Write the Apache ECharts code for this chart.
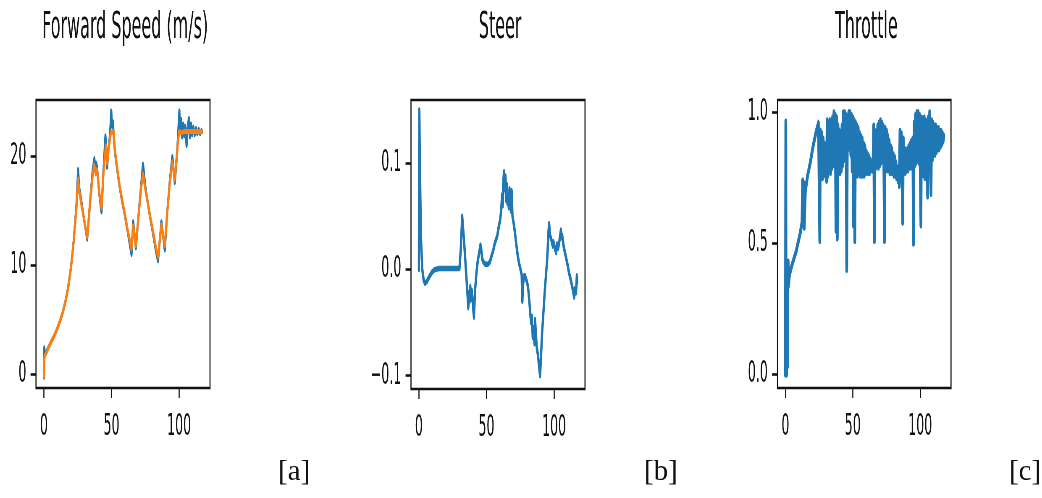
<!DOCTYPE html>
<html>
<head>
<meta charset="utf-8">
<script src="https://cdn.jsdelivr.net/npm/echarts@6/dist/echarts.min.js"></script>
<style>
  html, body { margin: 0; padding: 0; background: #fff; overflow: hidden; }
  #wrap { width: 1042px; height: 498px; overflow: hidden; position: relative; }
  #chart { position: absolute; left: 0; top: 0; height: 498px; transform-origin: 0 0; }
</style>
</head>
<body>
<div id="wrap"><div id="chart"></div></div>
<script>
// Panel titles and sub-figure captions
const panelTitles = ['Forward Speed (m/s)', 'Steer', 'Throttle'];
const captions = ['[a]', '[b]', '[c]'];

// Tick values of each panel
const xTicks = [0, 50, 100];
const speedTicks = [0, 10, 20];
const steerTicks = [-0.1, 0.0, 0.1];
const throttleTicks = [0.0, 0.5, 1.0];

// Forward speed: measured (blue) and filtered (orange), [time, m/s]
const speedMeasured = [
  [0,-0.3],[0.3,2.4],[0.8,1.7],[2,2.1],[4,2.6],[6,3.1],[8,3.6],[10,4.2],[12,4.9],[14,5.7],
  [16,6.7],[18,8.0],[20,9.8],[22,12.2],[24,15.4],[25.3,18.8],[26,17.2],[28,15.6],[30,14.0],[32,12.4],
  [34,15.6],[36,18.6],[37.3,19.8],[38,18.8],[38.6,19.4],[39.3,19.0],[41,16.5],[42.6,14.9],[44,18.6],[45.5,21.9],
  [46.2,20.5],[46.8,19.0],[47.5,20.4],[48.5,21.5],[49.3,22.9],[49.8,24.2],[50.4,22.8],[51,23.2],[51.6,22.0],[52.5,20.4],
  [54,19.0],[56,17.2],[58,15.8],[60,14.5],[62,13.1],[64.8,11.0],[66,14.0],[68,11.6],[70,14.6],[72,17.5],
  [73.3,19.3],[75,17.2],[77,15.6],[79,14.1],[81,12.7],[83,11.2],[84.4,10.4],[86.9,14.0],[89.4,11.4],[91,14.5],
  [93,17.6],[95,20.0],[96.8,17.6],[98.5,20.3],[99.5,22.6],[100.2,24.2],[100.8,22.4],[101.5,23.4],[102.2,21.8],[103,23.0],
  [103.8,21.9],[104.5,22.8],[105.5,21.0],[106.3,22.6],[107.2,23.5],[108,21.8],[108.8,23.0],[109.6,22.0],[110.5,22.7],[111.5,22.0],
  [112.5,22.6],[113.5,22.1],[114.5,22.5],[115.5,22.1],[116.5,22.4],[117,22.3]
];
const speedFiltered = [
  [0,-0.2],[0.4,1.6],[2,2.0],[4,2.6],[6,3.1],[8,3.6],[10,4.2],[12,4.9],[14,5.7],[16,6.7],
  [18,8.0],[20,9.8],[22,12.2],[24,15.2],[25.3,17.9],[26,16.9],[28,15.4],[30,14.0],[32,12.6],[34,15.5],
  [36,18.2],[37.3,19.2],[38.3,18.4],[39.3,18.8],[41,16.6],[42.6,15.3],[44,18.4],[45.8,21.0],[46.8,19.4],[48,20.8],
  [49.5,22.2],[51.5,22.3],[52.5,20.6],[54,19.1],[56,17.3],[58,15.9],[60,14.6],[62,13.2],[64.8,11.5],[66,13.6],
  [68,11.8],[70,14.6],[72,17.2],[73.3,18.4],[75,17.0],[77,15.6],[79,14.2],[81,12.9],[83,11.5],[84.4,10.8],
  [86.9,13.7],[89.4,11.8],[91,14.5],[93,17.4],[95,19.5],[96.8,17.9],[98.5,20.5],[100,22.3],[102,22.2],[104,22.3],
  [108,22.3],[112,22.3],[117,22.3]
];

// Steering command, [time, value]
const steer = [
  [0,0.0],[0.3,0.150],[0.7,0.10],[1.5,0.03],[2.5,0.0],[3.5,-0.010],[4.5,-0.013],[6,-0.011],[8,-0.006],[10,-0.002],
  [12,0.0],[15,0.001],[20,0.001],[25,0.001],[30,0.001],[31,0.02],[32,0.05],[32.6,0.040],[33.2,0.030],[34,0.015],
  [35,-0.005],[36,-0.025],[36.5,-0.036],[37,-0.022],[37.5,-0.030],[38,-0.016],[38.6,-0.028],[39.2,-0.020],[40,-0.035],[40.7,-0.045],
  [41.5,-0.020],[42.5,-0.004],[43.5,0.008],[44.5,0.015],[45.5,0.023],[46,0.020],[46.8,0.010],[47.7,0.007],[49,0.005],[51,0.005],
  [52.5,0.007],[54,0.014],[55,0.018],[56,0.024],[57,0.028],[58,0.032],[59,0.040],[60,0.046],[60.8,0.055],[61.5,0.070],
  [62,0.060],[62.5,0.085],[63,0.092],[63.5,0.075],[64,0.088],[64.5,0.065],[65,0.080],[65.5,0.062],[66,0.070],[66.5,0.058],
  [67,0.076],[67.5,0.072],[68,0.055],[68.6,0.074],[69.2,0.050],[70,0.044],[71,0.035],[72,0.024],[73,0.014],[74,0.006],
  [75,0.001],[76,-0.005],[76.5,-0.030],[77,-0.014],[77.8,-0.006],[78.5,-0.006],[79.5,-0.010],[80.5,-0.015],[81,-0.020],[81.8,-0.032],
  [82.4,-0.042],[83,-0.050],[83.5,-0.044],[84.2,-0.064],[84.8,-0.055],[85.5,-0.070],[85.9,-0.047],[86.5,-0.060],[87.2,-0.074],[88,-0.080],
  [88.8,-0.090],[89.6,-0.100],[90.2,-0.085],[91,-0.062],[92,-0.042],[93,-0.022],[94,-0.005],[95,0.012],[95.8,0.035],[96.3,0.043],
  [97,0.032],[98,0.028],[99,0.022],[99.5,0.026],[100.5,0.020],[101.5,0.016],[102,0.024],[103,0.020],[103.8,0.026],[104.5,0.032],
  [105,0.037],[105.5,0.030],[106,0.032],[107,0.022],[108,0.016],[109,0.010],[110,0.004],[111,-0.003],[112,-0.008],[113,-0.014],
  [114,-0.020],[114.8,-0.026],[115.5,-0.018],[116.2,-0.022],[116.8,-0.006],[117,-0.012]
];

// Throttle: start-up segment as [time, value], then samples every 0.5 s from t = 25
const throttleStart = [
  [0,0.0],[0.3,0.965],[0.6,0.02],[0.9,0.0],[1.2,0.06],[1.5,0.03],[1.8,0.30],[2.1,0.43],[2.4,0.34],[3,0.38],
  [5,0.42],[8,0.47],[11,0.54],[12.3,0.58],[12.8,0.74],[13.2,0.57],[13.6,0.73],[14,0.56],[14.8,0.70],[16.5,0.76],
  [18.5,0.81],[20.5,0.87],[22.5,0.92],[24.5,0.96]
];
const throttleT0 = 25;
const throttleDt = 0.5;
const throttleSamples = [
  0.96,0.51,0.93,0.78,0.92,0.75,0.90,0.76,0.88,0.77, 0.86,0.74,0.97,0.76,0.96,0.78,0.97,0.77,0.95,0.79,
  0.98,0.80,1.00,0.82,0.99,0.55,0.98,0.52,0.95,0.78, 0.93,0.77,0.92,0.78,0.95,0.80,1.00,0.82,1.00,0.84,
  0.99,0.40,0.98,0.86,1.00,0.88,1.00,0.84,0.99,0.78, 0.98,0.57,0.97,0.51,0.96,0.77,0.95,0.76,0.94,0.77,
  0.92,0.76,0.91,0.76,0.90,0.76,0.88,0.76,0.87,0.77, 0.85,0.77,0.84,0.77,0.83,0.77,0.82,0.78,0.81,0.78,
  0.80,0.95,0.51,0.90,0.79,0.93,0.80,0.95,0.79,0.96, 0.80,0.97,0.81,0.96,0.82,0.95,0.82,0.51,0.94,0.79,
  0.93,0.78,0.91,0.78,0.89,0.77,0.87,0.77,0.86,0.77, 0.84,0.76,0.83,0.76,0.81,0.75,0.79,0.74,0.77,0.72,
  0.93,0.74,0.92,0.78,0.58,0.90,0.77,0.86,0.77,0.85, 0.78,0.86,0.78,0.87,0.79,0.88,0.79,0.89,0.80,0.90,
  0.50,0.96,0.80,0.99,0.81,1.00,0.82,1.00,0.81,0.99, 0.80,0.57,0.98,0.78,0.97,0.76,0.98,0.75,0.97,0.78,
  0.96,0.68,0.98,0.80,1.00,0.82,0.69,0.97,0.82,0.96, 0.84,0.95,0.84,0.95,0.85,0.94,0.86,0.94,0.86,0.93,
  0.87,0.93,0.88,0.92,0.89,0.91
];
const throttle = throttleStart.concat(
  throttleSamples.map((v, i) => [throttleT0 + i * throttleDt, v])
);

// The figure is laid out on a wide canvas and squeezed horizontally,
// giving the tall, narrow lettering of the original figure.
const SQUEEZE = 0.42;
const sx = v => v / SQUEEZE;
const chartEl = document.getElementById('chart');
chartEl.style.width = Math.round(sx(1042)) + 'px';
chartEl.style.transform = 'scaleX(' + SQUEEZE + ')';

const BLUE = '#1f77b4';
const ORANGE = '#ff7f0e';
const INK = '#111';
const FONT = 'DejaVu Sans';

// panel boxes in on-screen pixels: [left, top, width, height]
const boxes = [
  [36, 100, 174, 288],
  [411, 100, 174, 289],
  [777.5, 100, 173.5, 288]
];
const yRanges = [[-1.3, 25.2], [-0.1125, 0.1595], [-0.052, 1.048]];
const yTickSets = [speedTicks, steerTicks, throttleTicks];
const yFormat = [
  v => String(v),
  v => (v < 0 ? '\u2212' : '') + Math.abs(v).toFixed(1),
  v => v.toFixed(1)
];

const grids = boxes.map(b => ({
  left: sx(b[0]), top: b[1], width: sx(b[2]), height: b[3],
  show: true, borderColor: INK, borderWidth: 2.6, backgroundColor: '#fff',
  outerBoundsMode: 'none', containLabel: false
}));

const xAxes = boxes.map((b, i) => ({
  type: 'value', gridIndex: i, min: -5.85, max: 122.85, position: 'bottom',
  splitLine: { show: false },
  axisLine: { show: false, onZero: false },
  axisTick: { show: true, length: 10, customValues: xTicks, lineStyle: { color: INK, width: 2.6 } },
  axisLabel: { show: true, margin: 24, customValues: xTicks, color: INK, fontFamily: FONT, fontSize: 30 }
}));

const yAxes = boxes.map((b, i) => ({
  type: 'value', gridIndex: i, min: yRanges[i][0], max: yRanges[i][1], position: 'left',
  splitLine: { show: false },
  axisLine: { show: false, onZero: false },
  axisTick: { show: true, length: 13, customValues: yTickSets[i], lineStyle: { color: INK, width: 2.6 } },
  axisLabel: { show: true, margin: 23, customValues: yTickSets[i], formatter: yFormat[i],
               color: INK, fontFamily: FONT, fontSize: 30 }
}));

const lineSeries = (data, idx, color, z, w) => ({
  type: 'line', xAxisIndex: idx, yAxisIndex: idx, data: data,
  showSymbol: false, symbol: 'none', smooth: false, silent: true, z: z,
  lineStyle: { color: color, width: w, join: 'round', cap: 'round' },
  animation: false
});

const titles = panelTitles.map((t, i) => ({
  text: t,
  left: sx(boxes[i][0] + boxes[i][2] / 2),
  textAlign: 'center',
  top: 4,
  textStyle: { fontFamily: FONT, fontWeight: 'normal', fontSize: 38, color: INK }
}));

const captionX = [278, 644, 1009];
const captionGraphics = captions.map((c, i) => ({
  type: 'text',
  x: sx(captionX[i]),
  y: 458,
  scaleX: 1 / SQUEEZE,
  style: { text: c, fontFamily: 'Liberation Serif', fontSize: 29, fill: '#111',
           textVerticalAlign: 'top' }
}));

const chart = echarts.init(chartEl, null, { renderer: 'canvas' });
chart.setOption({
  animation: false,
  backgroundColor: '#fff',
  title: titles,
  grid: grids,
  xAxis: xAxes,
  yAxis: yAxes,
  graphic: captionGraphics,
  series: [
    lineSeries(speedMeasured, 0, BLUE, 2, 5),
    lineSeries(speedFiltered, 0, ORANGE, 3, 5),
    lineSeries(steer, 1, BLUE, 2, 5.5),
    lineSeries(throttle, 2, BLUE, 2, 6.5)
  ]
});
</script>
</body>
</html>
